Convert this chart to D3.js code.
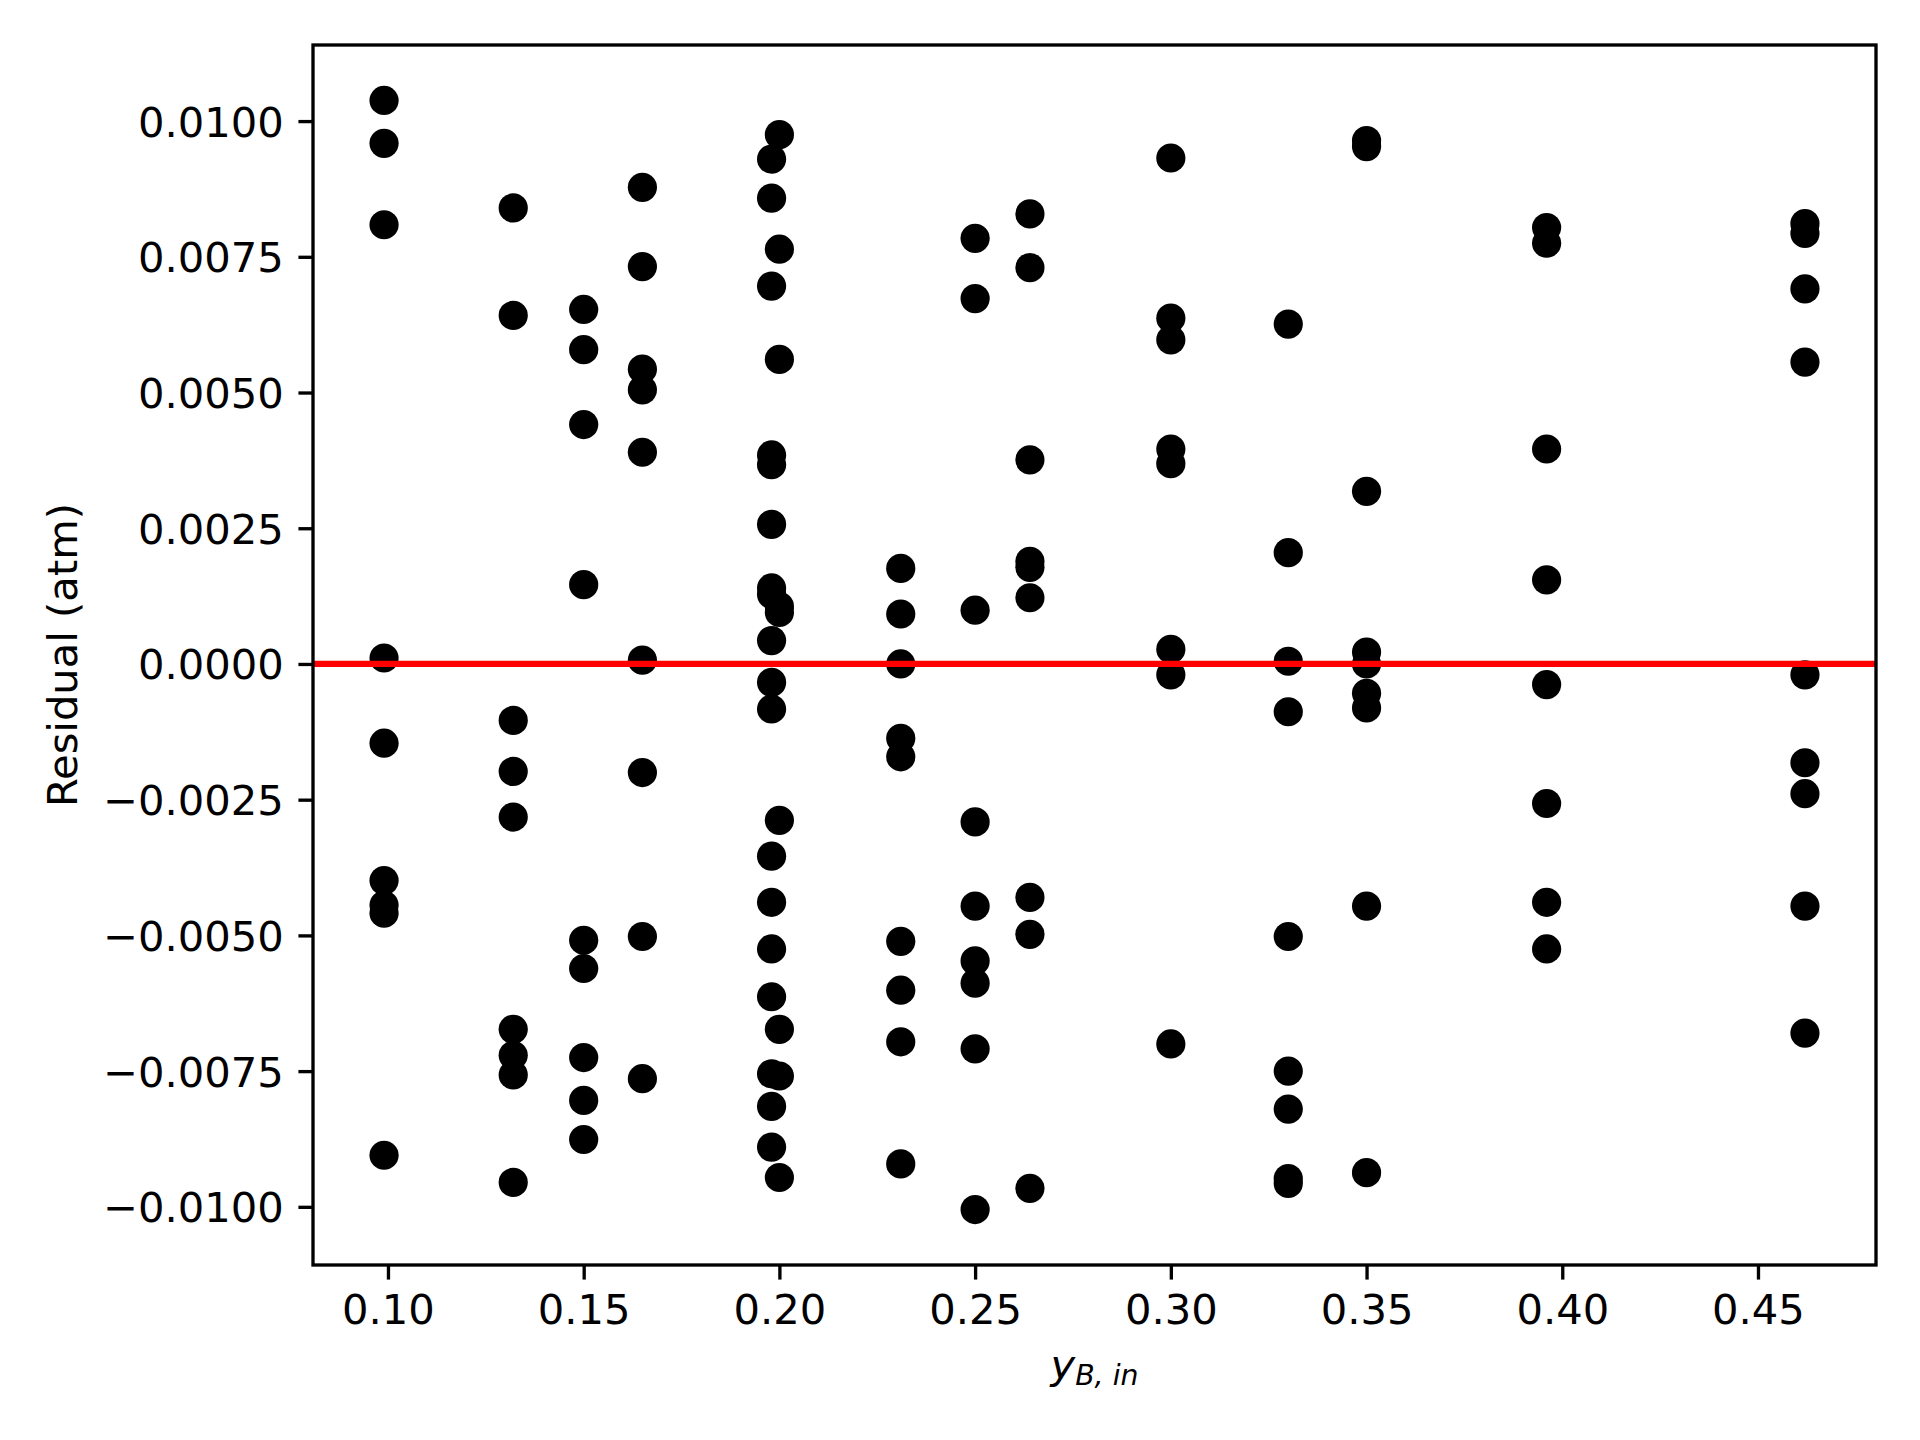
<!DOCTYPE html>
<html>
<head>
<meta charset="utf-8">
<script src="https://cdn.jsdelivr.net/npm/d3@7"></script>
<style>
  html, body { margin: 0; padding: 0; background: #fff; }
  svg { display: block; }
</style>
</head>
<body>
<div id="chart"></div>
<script>
// inlet mole fraction of B, one column of residuals per value
const yIn = [0.099, 0.132, 0.150, 0.165, 0.198, 0.200, 0.231, 0.250, 0.264, 0.300, 0.330, 0.350, 0.396, 0.462];

// residuals (atm), same order as yIn
const residuals = [
    [0.01038, 0.00959, 0.00809, 0.00011, -0.00146, -0.00399, -0.00444, -0.00459, -0.00905],
    [0.0084, 0.00642, -0.00104, -0.00198, -0.00282, -0.00673, -0.00721, -0.00757, -0.00955],
    [0.00653, 0.00579, 0.00441, 0.00146, -0.00509, -0.00561, -0.00725, -0.00804, -0.00876],
    [0.00878, 0.00732, 0.00543, 0.00505, 0.0039, 0.00007, -0.002, -0.00502, -0.00764],
    [0.0093, 0.00858, 0.00696, 0.00385, 0.00367, 0.00257, 0.0014, 0.00128, 0.00043, -0.00034, -0.00083, -0.00354, -0.00439, -0.00525, -0.00613, -0.00755, -0.00815, -0.0089],
    [0.00975, 0.00764, 0.00561, 0.00106, 0.00095, -0.00288, -0.00673, -0.00759, -0.00946],
    [0.00176, 0.00092, 0.0, -0.00137, -0.00171, -0.00511, -0.00601, -0.00696, -0.00921],
    [0.00784, 0.00673, 0.00099, -0.00291, -0.00446, -0.00547, -0.00588, -0.00709, -0.01005],
    [0.00829, 0.0073, 0.00376, 0.00189, 0.00178, 0.00122, -0.0043, -0.00498, -0.00966],
    [0.00932, 0.00637, 0.00597, 0.00396, 0.00369, 0.00027, -0.0002, -0.007],
    [0.00626, 0.00205, 0.00005, -0.00088, -0.00502, -0.0075, -0.0082, -0.00948, -0.00957],
    [0.00964, 0.00953, 0.00318, 0.00022, 0.0, -0.00054, -0.00081, -0.00446, -0.00937],
    [0.00804, 0.00775, 0.00396, 0.00155, -0.00038, -0.00257, -0.00439, -0.00525],
    [0.00811, 0.00793, 0.00691, 0.00556, -0.0002, -0.00182, -0.00239, -0.00446, -0.0068]
];

const xTicks = [0.10, 0.15, 0.20, 0.25, 0.30, 0.35, 0.40, 0.45];
const yTicks = [-0.0100, -0.0075, -0.0050, -0.0025, 0.0000, 0.0025, 0.0050, 0.0075, 0.0100];

// flatten into points
const points = [];
yIn.forEach((x, i) => {
    residuals[i].forEach(r => points.push({ x: x, r: r }));
});

const width = 1920;
const height = 1440;
const margin = { left: 313, right: 44, top: 45, bottom: 175 };
const innerW = width - margin.left - margin.right;
const innerH = height - margin.top - margin.bottom;

// pt -> px at 300 dpi
const pt = 300 / 72;
const fontSize = 10 * pt;

// matplotlib style 5% padding on each side
function padded(ext) {
    const span = ext[1] - ext[0];
    return [ext[0] - span * 0.05, ext[1] + span * 0.05];
}

const x = d3.scaleLinear()
    .domain(padded(d3.extent(points, d => d.x)))
    .range([0, innerW]);

const y = d3.scaleLinear()
    .domain(padded(d3.extent(points, d => d.r)))
    .range([innerH, 0]);

const svg = d3.select('#chart')
    .append('svg')
    .attr('width', width)
    .attr('height', height)
    .style('font-family', '"DejaVu Sans", sans-serif');

svg.append('rect')
    .attr('width', width)
    .attr('height', height)
    .attr('fill', '#fff');

const g = svg.append('g')
    .attr('transform', `translate(${margin.left},${margin.top})`);

// points
g.append('g')
    .selectAll('circle')
    .data(points)
    .join('circle')
    .attr('cx', d => x(d.x))
    .attr('cy', d => y(d.r))
    .attr('r', 14.6)
    .attr('fill', '#000');

// zero reference line
g.append('line')
    .attr('x1', 0)
    .attr('x2', innerW)
    .attr('y1', y(0))
    .attr('y2', y(0))
    .attr('stroke', '#ff0000')
    .attr('stroke-width', 1.5 * pt);

// axes
const tickLen = 3.5 * pt;
const xAxis = d3.axisBottom(x)
    .tickValues(xTicks)
    .tickFormat(d3.format('.2f'))
    .tickSize(tickLen)
    .tickSizeOuter(0)
    .tickPadding(tickLen);

const yAxis = d3.axisLeft(y)
    .tickValues(yTicks)
    .tickFormat(d3.format('.4f'))
    .tickSize(tickLen)
    .tickSizeOuter(0)
    .tickPadding(tickLen);

const gx = g.append('g')
    .attr('transform', `translate(0,${innerH})`)
    .call(xAxis);

const gy = g.append('g')
    .call(yAxis);

[gx, gy].forEach(ax => {
    ax.select('.domain').remove();
    ax.selectAll('.tick line')
        .attr('stroke', '#000')
        .attr('stroke-width', 0.8 * pt);
    ax.selectAll('.tick text')
        .attr('fill', '#000')
        .style('font-size', fontSize + 'px')
        .style('font-family', '"DejaVu Sans", sans-serif');
});
gy.selectAll('.tick text').attr('dy', '0.36em');

// frame
g.append('rect')
    .attr('width', innerW)
    .attr('height', innerH)
    .attr('fill', 'none')
    .attr('stroke', '#000')
    .attr('stroke-width', 0.8 * pt);

// y label
svg.append('text')
    .attr('transform', `translate(77,${margin.top + innerH / 2}) rotate(-90)`)
    .attr('text-anchor', 'middle')
    .style('font-size', fontSize + 'px')
    .text('Residual (atm)');

// x label: y_{B,in}
const xl = svg.append('text')
    .attr('x', margin.left + innerW / 2)
    .attr('y', 1379)
    .attr('text-anchor', 'middle')
    .style('font-size', fontSize + 'px')
    .style('font-style', 'italic');
xl.append('tspan').text('y');
xl.append('tspan')
    .attr('dy', 6)
    .style('font-size', (fontSize * 0.68) + 'px')
    .text('B, in');
</script>
</body>
</html>
